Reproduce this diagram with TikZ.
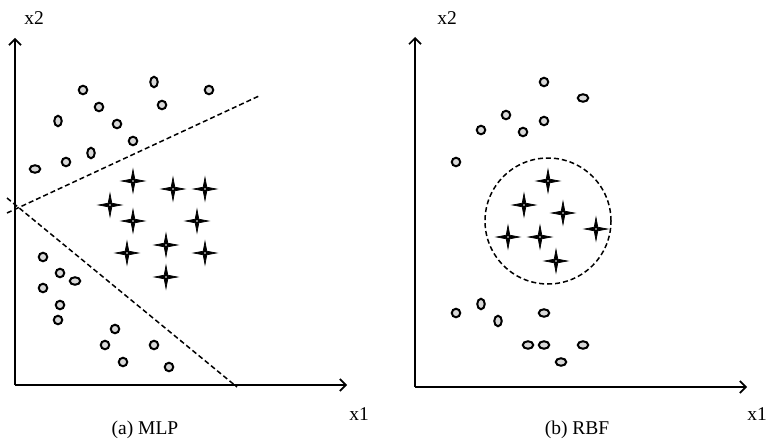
\documentclass[tikz,border=0pt]{standalone}
\usepackage{fontspec}
\setmainfont{Liberation Serif}
\usetikzlibrary{shapes.geometric, arrows.meta, positioning}

\begin{document}
\begin{tikzpicture}[
  x=1pt, y=-1pt,
  lbl/.style={font=\fontsize{19.5}{22}\selectfont, inner sep=0pt},
  ax/.style={line width=1.7pt, -{Straight Barb[length=6pt, width=12pt]}},
  bound/.style={line width=1.5pt, dash pattern=on 5pt off 3pt},
  dot/.style={ellipse, draw, line width=2pt, fill=gray!30, inner sep=0pt,
              minimum width=8.5pt, minimum height=8.5pt},
  dotv/.style={dot, minimum width=7.5pt, minimum height=10.5pt},
  doth/.style={dot, minimum width=10.5pt, minimum height=7.5pt},
  spark/.style={star, star points=4, star point ratio=4.5, fill=black, draw=black,
                line width=0.7pt, inner sep=0pt, minimum size=23pt,
                path picture={\fill[white] (path picture bounding box.center) circle (0.8pt);}}]
\useasboundingbox (0,0) rectangle (770,444);

% (a) MLP
\coordinate (oa) at (15,385);
\coordinate (ya) at (15,38);
\coordinate (xa) at (347,385);
\draw[ax] (oa) -- (ya);
\draw[ax] (oa) -- (xa);
\node[lbl] (x2a) at (34,18) {x2};
\node[lbl] (x1a) at (359,414) {x1};
\node[lbl] (capa) at (145,430) {(a) MLP};

\coordinate (u1) at (7,213);
\coordinate (u2) at (259,96);
\coordinate (l1) at (7,198);
\coordinate (l2) at (237,387);
\draw[bound] (u1) -- (u2);
\draw[bound] (l1) -- (l2);

\foreach \px/\py [count=\i] in {83/90, 209/90, 99/107, 162/105, 117/124, 133/141, 66/162,
    43/257, 60/273, 43/288, 60/305, 58/320, 115/329, 105/345, 154/345, 123/362, 169/367}
  \node[dot] (pa\i) at (\px,\py) {};
\foreach \px/\py [count=\i] in {154/82, 58/121, 91/153}
  \node[dotv] (va\i) at (\px,\py) {};
\foreach \px/\py [count=\i] in {35/169, 75/281}
  \node[doth] (ha\i) at (\px,\py) {};
\foreach \px/\py [count=\i] in {133/181, 173/189, 205/189, 110/205, 133/221,
    197/221, 166/245, 127/253, 205/253, 166/277}
  \node[spark] (sa\i) at (\px,\py) {};

% (b) RBF
\coordinate (ob) at (415,387);
\coordinate (yb) at (415,37);
\coordinate (xb) at (747,387);
\draw[ax] (ob) -- (yb);
\draw[ax] (ob) -- (xb);
\node[lbl] (x2b) at (447,18) {x2};
\node[lbl] (x1b) at (757,414) {x1};
\node[lbl] (capb) at (577,430) {(b) RBF};

\node[circle, draw, bound, minimum size=126pt, inner sep=0pt] (zone) at (548,221) {};

\foreach \px/\py [count=\i] in {544/82, 506/115, 544/121, 481/130, 523/132, 456/162, 456/313}
  \node[dot] (pb\i) at (\px,\py) {};
\foreach \px/\py [count=\i] in {481/304, 498/321}
  \node[dotv] (vb\i) at (\px,\py) {};
\foreach \px/\py [count=\i] in {583/98, 544/313, 528/345, 544/345, 583/345, 561/362}
  \node[doth] (hb\i) at (\px,\py) {};
\foreach \px/\py [count=\i] in {548/181, 524/205, 563/213, 596/229, 508/237, 540/237, 556/261}
  \node[spark] (sb\i) at (\px,\py) {};
\end{tikzpicture}
\end{document}
